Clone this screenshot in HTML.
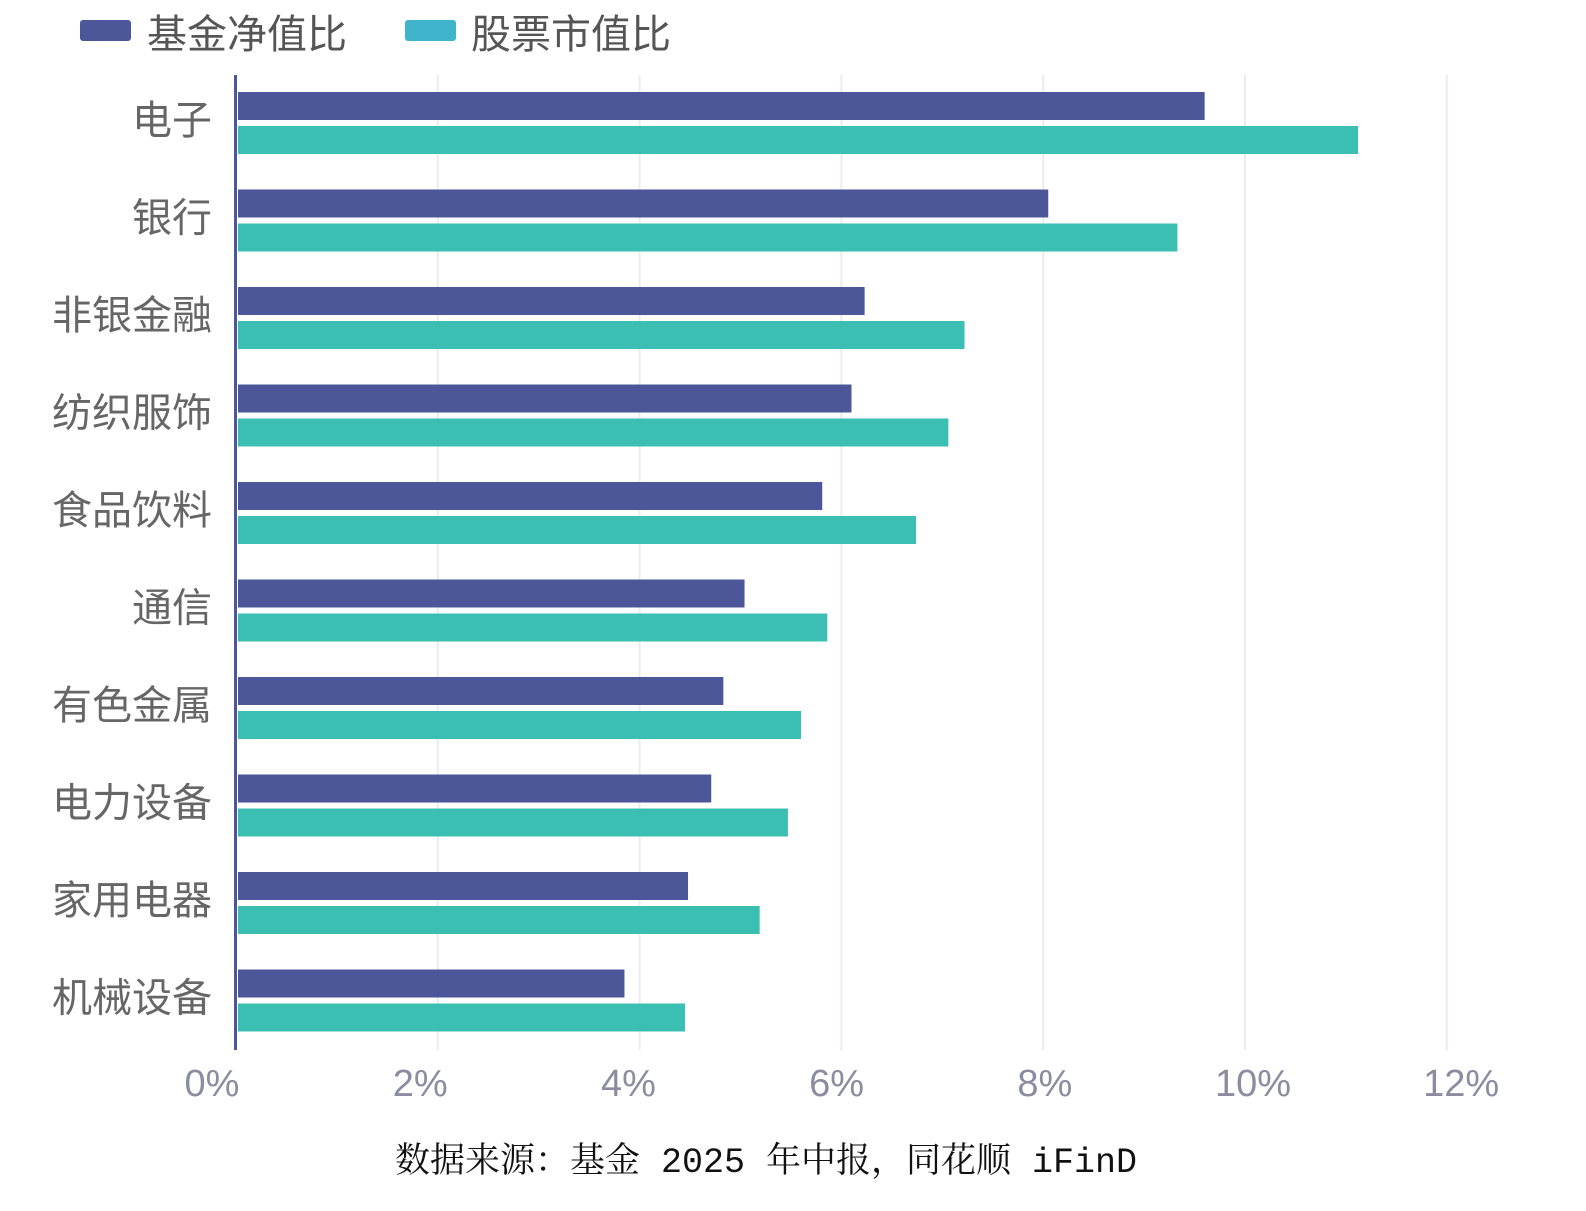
<!DOCTYPE html>
<html><head><meta charset="utf-8"><style>
body{margin:0;background:#fff;width:1586px;height:1206px;overflow:hidden}
svg text{font-family:"Liberation Sans","Noto Sans CJK SC",sans-serif}
</style></head><body>
<svg id="chart" width="1586" height="1206" xmlns="http://www.w3.org/2000/svg">
<g>
<rect x="80" y="20" width="51" height="21" rx="3" fill="#4c5799"/>
<text x="147" y="48" font-size="40" fill="#555">基金净值比</text>
<rect x="405" y="20" width="51" height="21" rx="3" fill="#3fb4cb"/>
<text x="471" y="48" font-size="40" fill="#555">股票市值比</text>
</g>
<g id="grid"></g><g id="bars"></g><g id="ticks"></g><g id="cats"></g>
<line x1="235.5" y1="75" x2="235.5" y2="1050" stroke="#4c5799" stroke-width="3"/>
<text x="766" y="1172" font-size="35" text-anchor="middle" fill="#111" style="font-family:'Liberation Mono','Noto Serif CJK SC',serif">数据来源：基金 2025 年中报，同花顺 iFinD</text>
</svg>
<script>
const categories=["电子","银行","非银金融","纺织服饰","食品饮料","通信","有色金属","电力设备","家用电器","机械设备"];
const fundValues=[9.60,8.05,6.23,6.10,5.81,5.04,4.83,4.71,4.48,3.85];
const stockValues=[11.12,9.33,7.22,7.06,6.74,5.86,5.60,5.47,5.19,4.45];
const tickValues=[0,2,4,6,8,10,12];
const tickLabels=["0%","2%","4%","6%","8%","10%","12%"];
const NS="http://www.w3.org/2000/svg";
const x0=236,pxPer=100.9,plotTop=75,band=97.5;
const xs=v=>x0+v*pxPer;
const xl=v=>212+v*104.1;
const yb=i=>plotTop+i*band;
function mk(t,a,p){const e=document.createElementNS(NS,t);for(const k in a)e.setAttribute(k,a[k]);document.getElementById(p).appendChild(e);return e;}
tickValues.forEach((v,i)=>{
 if(v>0){const g=mk('line',{x1:xs(v),x2:xs(v),y1:plotTop,y2:1050,stroke:'#ebebf3','stroke-width':2},'grid');
 
 }
 const t=mk('text',{x:xl(v),y:1096,'font-size':38,fill:'#8c8ca0','text-anchor':'middle'},'ticks');
 t.textContent=tickLabels[i];
 
 
});
categories.forEach((c,i)=>{
 const y=yb(i);
 const b1=mk('rect',{x:x0+2,y:y+17,width:xs(fundValues[i])-x0-2,height:28,fill:'#4c5799'},'bars');
 
 
 const b2=mk('rect',{x:x0+2,y:y+51,width:xs(stockValues[i])-x0-2,height:28,fill:'#3bbfb2'},'bars');
 
 
 const t=mk('text',{x:212,y:y+59,'font-size':40,fill:'#666','text-anchor':'end'},'cats');
 t.textContent=c;
 
 
});
</script>
</body></html>
